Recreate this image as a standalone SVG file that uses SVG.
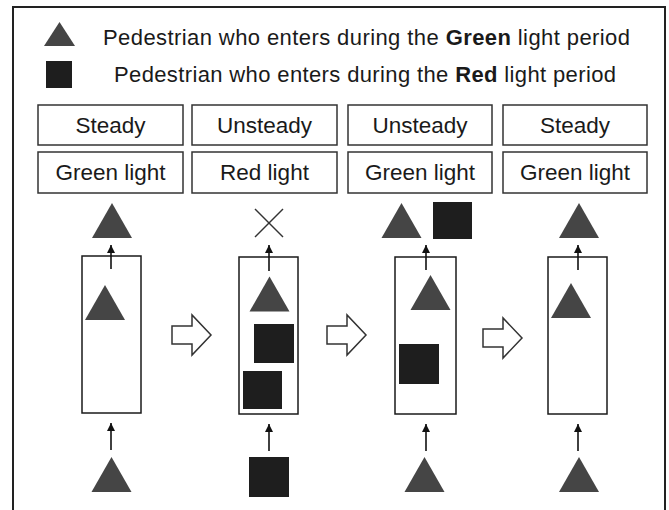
<svg xmlns="http://www.w3.org/2000/svg" width="669" height="510" viewBox="0 0 669 510">
  <style>
    .txt { font-family: "Liberation Sans", Arial, sans-serif; font-size: 22px; fill: #1a1a1a; }
    .hdr { font-family: "Liberation Sans", Arial, sans-serif; font-size: 22.5px; fill: #1a1a1a; text-anchor: middle; }
    .box { fill: #ffffff; stroke: #333333; stroke-width: 1.5; }
    .tube { fill: #ffffff; stroke: #1a1a1a; stroke-width: 1.5; }
    .tri { fill: #454545; }
    .sq { fill: #1e1e1e; }
    .flow { stroke: #111111; stroke-width: 1.6; fill: none; marker-end: url(#tip); }
    .step { fill: #ffffff; stroke: #333333; stroke-width: 1.5; stroke-linejoin: miter; }
    .cross { stroke: #333333; stroke-width: 1.5; }
  </style>
  <defs>
    <marker id="tip" markerUnits="userSpaceOnUse" markerWidth="9" markerHeight="9" refX="8" refY="4" orient="auto">
      <path d="M0,0 L8,4 L0,8 z" fill="#111111"/>
    </marker>
    <path id="triShape" d="M-20,17.5 L0,-17.5 L20,17.5 z"/>
    <path id="stepArrow" d="M0,-9 L20,-9 L20,-20 L39,0 L20,20 L20,9 L0,9 z"/>
  </defs>

  <rect width="669" height="510" fill="#ffffff"/>
  <!-- outer frame, open at the bottom -->
  <path d="M13,512 L13,7 L665,7 L665,512" fill="none" stroke="#222222" stroke-width="2"/>

  <!-- legend -->
  <g id="legend">
    <path class="tri" d="M44,46 L59.5,22 L75,46 z"/>
    <text class="txt" x="103" y="45" textLength="527" lengthAdjust="spacing">Pedestrian who enters during the <tspan font-weight="bold">Green</tspan> light period</text>
    <rect class="sq" x="46" y="61" width="26" height="27"/>
    <text class="txt" x="114" y="82" textLength="502" lengthAdjust="spacing">Pedestrian who enters during the <tspan font-weight="bold">Red</tspan> light period</text>
  </g>

  <!-- column 1: steady, green light -->
  <g id="state1">
    <rect class="box" x="38" y="105" width="145" height="40"/>
    <text class="hdr" x="110.5" y="133">Steady</text>
    <rect class="box" x="38" y="152" width="145" height="41"/>
    <text class="hdr" x="110.5" y="180">Green light</text>
    <rect class="tube" x="82" y="256" width="59" height="157"/>
    <use href="#triShape" class="tri" x="112" y="220.5"/>
    <use href="#triShape" class="tri" x="105" y="302.5"/>
    <use href="#triShape" class="tri" x="111.5" y="474.5"/>
  </g>

  <!-- column 2: unsteady, red light -->
  <g id="state2">
    <rect class="box" x="192" y="105" width="145" height="40"/>
    <text class="hdr" x="264.5" y="133">Unsteady</text>
    <rect class="box" x="192" y="152" width="145" height="41"/>
    <text class="hdr" x="264.5" y="180">Red light</text>
    <rect class="tube" x="239" y="257" width="59" height="157"/>
    <line class="cross" x1="255" y1="209" x2="283" y2="237"/>
    <line class="cross" x1="283" y1="209" x2="255" y2="237"/>
    <use href="#triShape" class="tri" x="269.5" y="294"/>
    <rect class="sq" x="254" y="324" width="40" height="39"/>
    <rect class="sq" x="243" y="371" width="39" height="38"/>
    <rect class="sq" x="249" y="457" width="40" height="40"/>
  </g>

  <!-- column 3: unsteady, green light -->
  <g id="state3">
    <rect class="box" x="348" y="105" width="144" height="40"/>
    <text class="hdr" x="420" y="133">Unsteady</text>
    <rect class="box" x="348" y="152" width="144" height="41"/>
    <text class="hdr" x="420" y="180">Green light</text>
    <rect class="tube" x="395" y="257" width="61" height="157"/>
    <use href="#triShape" class="tri" x="401.5" y="220.5"/>
    <rect class="sq" x="433" y="202" width="39" height="37"/>
    <use href="#triShape" class="tri" x="430.5" y="292.5"/>
    <rect class="sq" x="399" y="344" width="40" height="40"/>
    <use href="#triShape" class="tri" x="424.5" y="474.5"/>
  </g>

  <!-- column 4: steady, green light -->
  <g id="state4">
    <rect class="box" x="503" y="105" width="144" height="40"/>
    <text class="hdr" x="575" y="133">Steady</text>
    <rect class="box" x="503" y="152" width="144" height="41"/>
    <text class="hdr" x="575" y="180">Green light</text>
    <rect class="tube" x="548" y="257" width="59" height="157"/>
    <use href="#triShape" class="tri" x="579" y="220.5"/>
    <use href="#triShape" class="tri" x="571" y="300.5"/>
    <use href="#triShape" class="tri" x="579" y="474.5"/>
  </g>

  <!-- connectors: entry/exit arrows and transitions between states -->
  <g id="connectors">
    <line class="flow" x1="111" y1="269" x2="111" y2="245"/>
    <line class="flow" x1="111" y1="450" x2="111" y2="423"/>
    <line class="flow" x1="269" y1="271" x2="269" y2="245"/>
    <line class="flow" x1="269" y1="451" x2="269" y2="424"/>
    <line class="flow" x1="426" y1="270" x2="426" y2="245"/>
    <line class="flow" x1="426" y1="451" x2="426" y2="424"/>
    <line class="flow" x1="578" y1="270" x2="578" y2="245"/>
    <line class="flow" x1="578" y1="451" x2="578" y2="424"/>
    <use href="#stepArrow" class="step" x="172" y="335"/>
    <use href="#stepArrow" class="step" x="327" y="335"/>
    <use href="#stepArrow" class="step" x="483" y="338"/>
  </g>
</svg>
